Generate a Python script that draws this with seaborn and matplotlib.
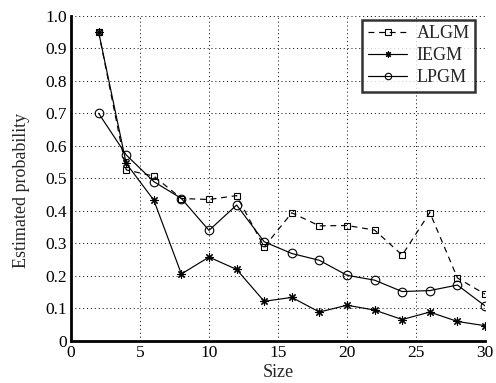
import matplotlib
matplotlib.use("Agg")
import matplotlib.pyplot as plt
import seaborn as sns
import pandas as pd

sizes = [2, 4, 6, 8, 10, 12, 14, 16, 18, 20, 22, 24, 26, 28, 30]
algm = [0.95, 0.526, 0.507, 0.438, 0.435, 0.447, 0.289, 0.394, 0.354, 0.355, 0.341, 0.264, 0.395, 0.194, 0.144]
iegm = [0.95, 0.546, 0.433, 0.206, 0.258, 0.220, 0.122, 0.134, 0.089, 0.110, 0.095, 0.066, 0.089, 0.060, 0.047]
lpgm = [0.70, 0.572, 0.490, 0.438, 0.340, 0.418, 0.305, 0.269, 0.248, 0.202, 0.187, 0.152, 0.155, 0.172, 0.108]
x_ticks = [0, 5, 10, 15, 20, 25, 30]
y_ticks = [0, 0.1, 0.2, 0.3, 0.4, 0.5, 0.6, 0.7, 0.8, 0.9, 1.0]

df = pd.DataFrame({
    "Size": sizes * 3,
    "p": algm + iegm + lpgm,
    "Method": ["ALGM"] * len(sizes) + ["IEGM"] * len(sizes) + ["LPGM"] * len(sizes),
})

sns.set_style("white")
plt.rcParams["font.family"] = ["Liberation Serif", "DejaVu Serif"]

fig = plt.figure(figsize=(4.96, 3.83), dpi=100)
ax = fig.add_axes([71 / 496, 1 - 341 / 383, 414 / 496, 325.3 / 383])

styles = {
    "ALGM": dict(marker="s", linestyle=(0, (5, 4)), markersize=5, fc="none", mew=0.8),
    "IEGM": dict(marker=(8, 2, 0), linestyle="-", markersize=6, fc="black", mew=0.8),
    "LPGM": dict(marker="o", linestyle="-", markersize=6.2, fc="none", mew=0.8),
}
for m in ["ALGM", "IEGM", "LPGM"]:
    sub = df[df["Method"] == m]
    st = styles[m]
    sns.lineplot(data=sub, x="Size", y="p", ax=ax, color="black", linewidth=0.85,
                 marker=st["marker"], markersize=st["markersize"],
                 markerfacecolor=st["fc"], markeredgecolor="black",
                 markeredgewidth=st["mew"], linestyle=st["linestyle"], label=m)

ax.set_xlim(0, 30)
ax.set_ylim(0, 1.0)
ax.set_xticks(x_ticks)
ax.set_yticks(y_ticks)
ax.set_yticklabels(["0"] + [f"{v:.1f}" for v in y_ticks[1:]])
ax.grid(True, color="black", linestyle=(0, (1, 3)), linewidth=0.7)
ax.tick_params(direction="in", length=4, width=1.2, labelsize=12.5, colors="black", pad=3)
for s in ["top", "right"]:
    ax.spines[s].set_visible(False)
for s in ["left", "bottom"]:
    ax.spines[s].set_color("black")
    ax.spines[s].set_linewidth(2.0)
ax.set_xlabel("Size", fontsize=13, labelpad=2)
ax.set_ylabel("Estimated probability", fontsize=13)
ax.yaxis.set_label_coords(-0.098, 0.462)

leg = ax.legend(loc="upper right", fontsize=13, frameon=True, fancybox=False,
                edgecolor="black", handlelength=2.2, borderpad=0.3, labelspacing=0.28,
                handletextpad=0.5, borderaxespad=0.0, bbox_to_anchor=(0.976, 0.987),
                markerscale=0.75)
leg.get_frame().set_linewidth(1.8)

fig.savefig("out.png", dpi=100)
